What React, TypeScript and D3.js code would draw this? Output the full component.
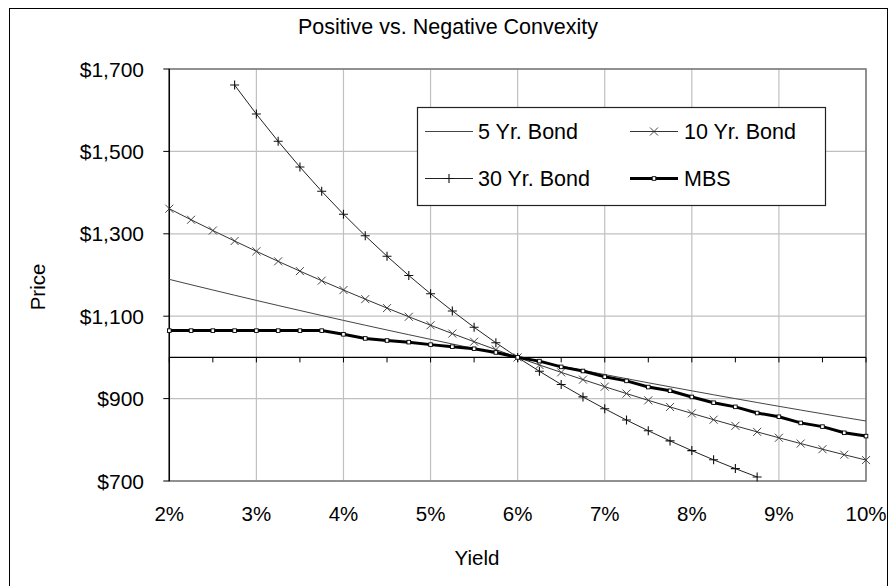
import React from "react";
import * as d3 from "d3";

const yields = [
  0.02, 0.0225, 0.025, 0.0275, 0.03, 0.0325, 0.035, 0.0375, 0.04, 0.0425, 0.045,
  0.0475, 0.05, 0.0525, 0.055, 0.0575, 0.06, 0.0625, 0.065, 0.0675, 0.07, 0.0725,
  0.075, 0.0775, 0.08, 0.0825, 0.085, 0.0875, 0.09, 0.0925, 0.095, 0.0975, 0.1,
];

const bond5 = [
  1189.4, 1176.4, 1163.6, 1150.9, 1138.3, 1126.0, 1113.8, 1101.7, 1089.8, 1078.1, 1066.5,
  1055.1, 1043.8, 1032.6, 1021.6, 1010.7, 1000.0, 989.4, 978.9, 968.6, 958.4, 948.4,
  938.4, 928.6, 918.9, 909.3, 899.9, 890.5, 881.3, 872.2, 863.2, 854.3, 845.6,
];

const bond10 = [
  1360.9, 1334.1, 1308.0, 1282.5, 1257.5, 1233.2, 1209.4, 1186.2, 1163.5, 1141.4, 1119.7,
  1098.6, 1078.0, 1057.8, 1038.1, 1018.8, 1000.0, 981.6, 963.7, 946.1, 928.9, 912.2,
  895.8, 879.8, 864.1, 848.8, 833.8, 819.2, 804.9, 790.9, 777.2, 763.8, 750.8,
];

// 30 Yr. Bond is only shown from 2.75% to 8.75%
const yields30 = [
  0.0275, 0.03, 0.0325, 0.035, 0.0375, 0.04, 0.0425, 0.045, 0.0475, 0.05, 0.0525,
  0.055, 0.0575, 0.06, 0.0625, 0.065, 0.0675, 0.07, 0.0725, 0.075, 0.0775, 0.08,
  0.0825, 0.085, 0.0875,
];
const bond30 = [
  1661.0, 1590.7, 1524.5, 1462.1, 1403.2, 1347.6, 1295.2, 1245.6, 1198.8, 1154.5, 1112.7,
  1073.1, 1035.5, 1000.0, 966.3, 934.4, 904.1, 875.3, 847.9, 822.0, 797.3, 773.8,
  751.4, 730.1, 709.8,
];

const mbs = [
  1065, 1065, 1065, 1065, 1065, 1065, 1065, 1065, 1056, 1046, 1041,
  1037, 1031, 1026, 1021, 1012, 1000, 991, 977, 967, 953, 943,
  928, 919, 904, 890, 880, 865, 856, 841, 832, 817, 809,
];

const priceTicks = [700, 900, 1100, 1300, 1500, 1700];
const yieldTicks = [0.02, 0.03, 0.04, 0.05, 0.06, 0.07, 0.08, 0.09, 0.1];
const minorYieldTicks = [
  0.02, 0.025, 0.03, 0.035, 0.04, 0.045, 0.05, 0.055, 0.06, 0.065, 0.07, 0.075,
  0.08, 0.085, 0.09, 0.095, 0.1,
];
const seriesNames = ["5 Yr. Bond", "10 Yr. Bond", "30 Yr. Bond", "MBS"];
const titleText = "Positive vs. Negative Convexity";
const xTitle = "Yield";
const yTitle = "Price";

const FONT = "Arial, 'Liberation Sans', sans-serif";

const L = 169.3, R = 866, T = 69, B = 481;

function Marker({ kind, x, y }: { kind: string; x: number; y: number }) {
  if (kind === "cross") {
    return (
      <path
        d={`M${x - 4},${y - 4}L${x + 4},${y + 4}M${x - 4},${y + 4}L${x + 4},${y - 4}`}
        stroke="#333"
        strokeWidth={0.9}
        fill="none"
      />
    );
  }
  if (kind === "plus") {
    return (
      <path
        d={`M${x - 4.5},${y}H${x + 4.5}M${x},${y - 4.5}V${y + 4.5}`}
        stroke="#111"
        strokeWidth={1.1}
        fill="none"
      />
    );
  }
  if (kind === "square") {
    return (
      <rect x={x - 1.8} y={y - 1.8} width={3.6} height={3.6} fill="#fff" stroke="#000" strokeWidth={0.9} />
    );
  }
  return null;
}

export default function App() {
  const x = d3.scaleLinear().domain([0.02, 0.1]).range([L, R]);
  const y = d3.scaleLinear().domain([700, 1700]).range([B, T]);
  const line = d3
    .line<[number, number]>()
    .x((d) => x(d[0]))
    .y((d) => y(d[1]));

  const s5 = yields.map((v, i) => [v, bond5[i]] as [number, number]);
  const s10 = yields.map((v, i) => [v, bond10[i]] as [number, number]);
  const s30 = yields30.map((v, i) => [v, bond30[i]] as [number, number]);
  const sM = yields.map((v, i) => [v, mbs[i]] as [number, number]);

  const axisY = y(1000);

  const legend = { x0: 417, y0: 107, x1: 825, y1: 205 };
  const rows = [131.5, 178.5];
  const cols = [
    { s: 425, e: 473, t: 478 },
    { s: 630, e: 678, t: 684 },
  ];
  const legendItems = [
    { name: seriesNames[0], col: 0, row: 0, marker: "", w: 1, c: "#444" },
    { name: seriesNames[1], col: 1, row: 0, marker: "cross", w: 1, c: "#333" },
    { name: seriesNames[2], col: 0, row: 1, marker: "plus", w: 1, c: "#222" },
    { name: seriesNames[3], col: 1, row: 1, marker: "square", w: 3, c: "#000" },
  ];

  return (
    <svg
      width={896}
      height={586}
      style={{ position: "absolute", left: 0, top: 0, background: "#fff" }}
      fontFamily={FONT}
    >
      <rect x={0} y={0} width={896} height={586} fill="#fff" />
      {/* chart border */}
      <rect x={9.5} y={8.5} width={878} height={600} fill="none" stroke="#000" strokeWidth={1} />

      {/* title */}
      <text x={448} y={27} textAnchor="middle" dominantBaseline="central" fontSize={21.5} fill="#000">
        {titleText}
      </text>

      {/* gridlines */}
      {priceTicks.map((p) => (
        <line key={"gy" + p} x1={L} x2={R} y1={y(p)} y2={y(p)} stroke="#c0c0c0" strokeWidth={1.2} />
      ))}
      {yieldTicks.map((v) => (
        <line key={"gx" + v} x1={x(v)} x2={x(v)} y1={T} y2={B} stroke="#c0c0c0" strokeWidth={1.2} />
      ))}

      {/* plot border */}
      <rect x={L} y={T} width={R - L} height={B - T} fill="none" stroke="#777" strokeWidth={1.5} />

      {/* y axis */}
      <line x1={L} x2={L} y1={T} y2={B} stroke="#000" strokeWidth={1.3} />
      {priceTicks.map((p) => (
        <line key={"ty" + p} x1={L - 6} x2={L} y1={y(p)} y2={y(p)} stroke="#000" strokeWidth={1} />
      ))}
      {priceTicks.map((p) => (
        <text
          key={"ly" + p}
          x={144}
          y={y(p)}
          textAnchor="end"
          dominantBaseline="central"
          fontSize={21}
          fill="#000"
        >
          {d3.format("$,")(p)}
        </text>
      ))}

      {/* x axis at 1000 */}
      <line x1={L} x2={R} y1={axisY} y2={axisY} stroke="#000" strokeWidth={1.3} />
      {minorYieldTicks.map((v) => (
        <line key={"tx" + v} x1={x(v)} x2={x(v)} y1={axisY} y2={axisY + 5} stroke="#000" strokeWidth={1} />
      ))}
      {yieldTicks.map((v) => (
        <text
          key={"lx" + v}
          x={x(v)}
          y={513}
          textAnchor="middle"
          dominantBaseline="central"
          fontSize={20.5}
          fill="#000"
        >
          {d3.format(".0%")(v)}
        </text>
      ))}

      {/* axis titles */}
      <text x={477} y={557} textAnchor="middle" dominantBaseline="central" fontSize={20.5} fill="#000">
        {xTitle}
      </text>
      <text
        transform={`translate(37,287) rotate(-90)`}
        textAnchor="middle"
        dominantBaseline="central"
        fontSize={20.5}
        fill="#000"
      >
        {yTitle}
      </text>

      {/* series */}
      <path d={line(s5) || ""} fill="none" stroke="#444" strokeWidth={1} />
      <path d={line(s10) || ""} fill="none" stroke="#333" strokeWidth={1} />
      {s10.map((d, i) => (
        <Marker key={"m10" + i} kind="cross" x={x(d[0])} y={y(d[1])} />
      ))}
      <path d={line(s30) || ""} fill="none" stroke="#222" strokeWidth={1} />
      {s30.map((d, i) => (
        <Marker key={"m30" + i} kind="plus" x={x(d[0])} y={y(d[1])} />
      ))}
      <path d={line(sM) || ""} fill="none" stroke="#000" strokeWidth={3} />
      {sM.map((d, i) => (
        <Marker key={"mm" + i} kind="square" x={x(d[0])} y={y(d[1])} />
      ))}

      {/* legend */}
      <rect
        x={legend.x0 + 0.5}
        y={legend.y0 + 0.5}
        width={legend.x1 - legend.x0}
        height={legend.y1 - legend.y0}
        fill="#fff"
        stroke="#222"
        strokeWidth={1.2}
      />
      {legendItems.map((it) => {
        const c = cols[it.col];
        const ry = rows[it.row];
        return (
          <g key={it.name}>
            <line x1={c.s} x2={c.e} y1={ry} y2={ry} stroke={it.c} strokeWidth={it.w} />
            {it.marker && <Marker kind={it.marker} x={(c.s + c.e) / 2} y={ry} />}
            <text x={c.t} y={ry} dominantBaseline="central" fontSize={21.5} fill="#000">
              {it.name}
            </text>
          </g>
        );
      })}
    </svg>
  );
}
